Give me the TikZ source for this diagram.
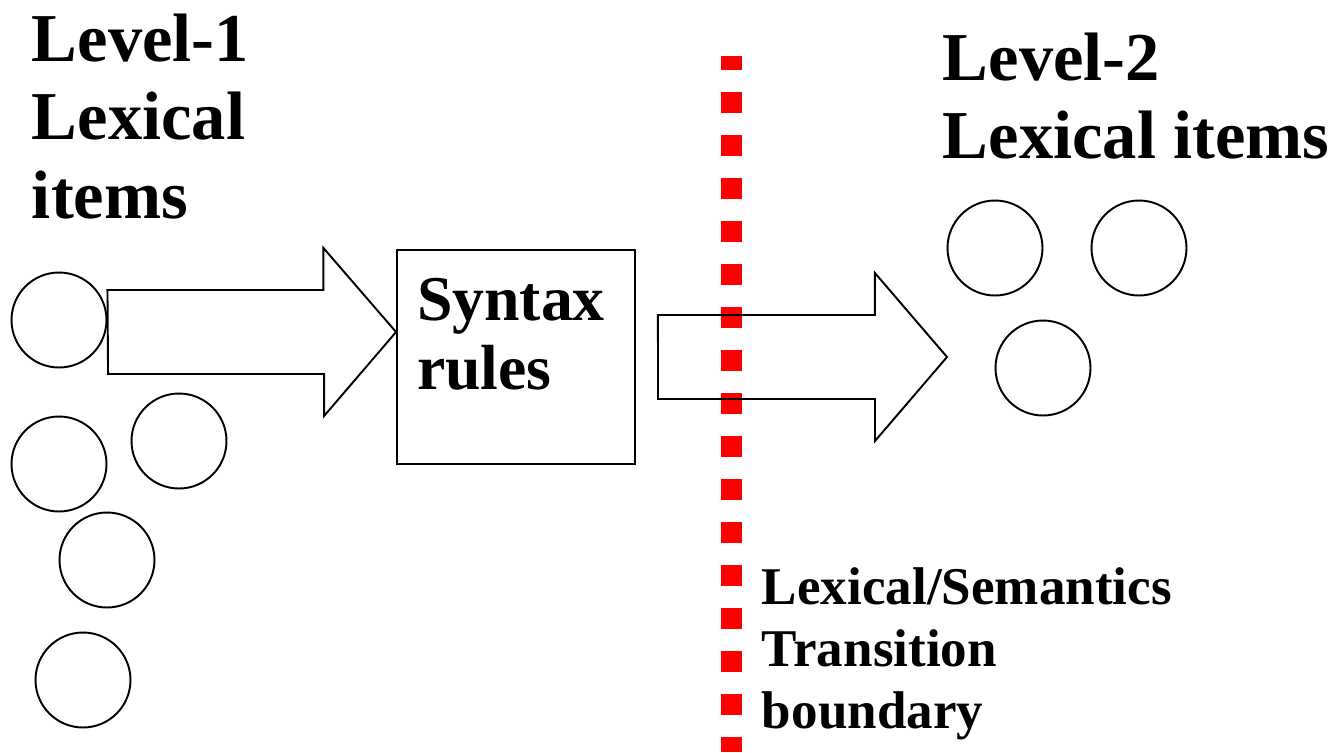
\documentclass[tikz,border=0pt]{standalone}
\usepackage{fontspec}
\setmainfont{Liberation Serif}
\usetikzlibrary{calc}

\begin{document}
\begin{tikzpicture}[x=0.02cm,y=-0.02cm,line width=1.1pt,
  item/.style={circle,draw,inner sep=0pt,minimum size=1.9cm},
  rulebox/.style={draw,inner sep=0pt,minimum width=4.76cm,minimum height=4.28cm},
  fat arrow/.style={draw,line join=miter},
  boundary/.style={red,line width=0.42cm,dash pattern=on 0.42cm off 0.44cm,dash phase=0.14cm},
  big text/.style={anchor=north west,inner sep=0pt,align=left,font=\fontsize{39}{44.6}\selectfont\bfseries},
  box text/.style={anchor=north west,inner sep=0pt,align=left,font=\fontsize{36.3}{39.3}\selectfont\bfseries},
  small text/.style={anchor=north west,inner sep=0pt,align=left,font=\fontsize{30.2}{35.3}\selectfont\bfseries}]

  \useasboundingbox (0,0) rectangle (1340,752);

  % the boundary goes first, the second arrow is drawn over it
  \coordinate (bt) at (731,56);
  \coordinate (bb) at (731,752);
  \draw[boundary] (bt) -- (bb);

  % level 1 items
  \node[item] (l1) at (59,320) {};
  \node[item] (l2) at (59,464) {};
  \node[item] (l3) at (179,441) {};
  \node[item] (l4) at (107,560) {};
  \node[item] (l5) at (83,680) {};

  % level 2 items
  \node[item] (r1) at (995,248) {};
  \node[item] (r2) at (1139,248) {};
  \node[item] (r3) at (1043,368) {};

  \node[rulebox] (syn) at (516,357) {};
  \node[box text] (syntxt) at ($(syn.north west)+(20,28)$) {Syntax\\rules};

  \node[big text] (lev1) at (31,13) {Level-1\\Lexical\\items};
  \node[big text] (lev2) at (942,32) {Level-2\\Lexical items};
  \node[small text] (trans) at (761,567) {Lexical/Semantics\\Transition\\boundary};

  % block arrows
  \coordinate (a1s) at (l1.east |- 0,332);
  \coordinate (a1t) at (syn.west |- a1s);
  \draw[fat arrow] (a1s) ++(0,-42) -- ++(216,0) -- ++(0,-42) -- (a1t)
    -- ++(-72,84) -- ++(0,-42) -- ++(-216,0) -- cycle;

  \coordinate (a2s) at ($(syn.east)+(22,0)$);
  \coordinate (a2t) at (947,357);
  \draw[fat arrow] (a2s) ++(0,-42) -- ++(217,0) -- ++(0,-42) -- (a2t)
    -- ++(-72,84) -- ++(0,-42) -- ++(-217,0) -- cycle;
\end{tikzpicture}
\end{document}
